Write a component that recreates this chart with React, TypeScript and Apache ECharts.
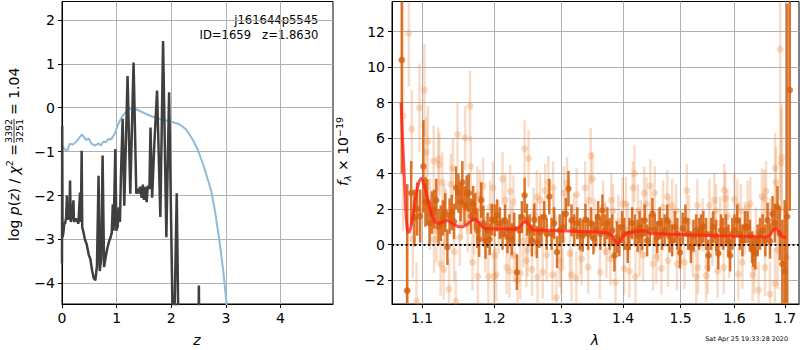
import React, { useEffect, useRef } from 'react';
import * as echarts from 'echarts';

// ---------- Left panel: log p(z) ----------
const zTicks = [0, 1, 2, 3, 4];
const logpTicks = [-4, -3, -2, -1, 0, 1, 2];

const blueZ = [0.0, 0.02, 0.06, 0.10, 0.14, 0.20, 0.27, 0.36, 0.40, 0.44, 0.49, 0.54, 0.61, 0.67, 0.71, 0.76, 0.80, 0.85, 0.90, 0.97, 1.03, 1.09, 1.15, 1.22, 1.28, 1.37, 1.50, 1.65, 1.80, 1.95, 2.14, 2.27, 2.38, 2.48, 2.60, 2.73, 2.80, 2.88, 2.95, 3.01, 3.06];
const blueLogP = [-0.92, -0.90, -0.96, -0.97, -0.82, -0.84, -0.76, -0.61, -0.66, -0.73, -0.70, -0.82, -0.86, -0.81, -0.86, -0.77, -0.79, -0.71, -0.72, -0.58, -0.37, -0.22, -0.12, -0.04, 0.0, -0.04, -0.12, -0.20, -0.26, -0.30, -0.37, -0.49, -0.70, -0.94, -1.35, -1.89, -2.35, -3.02, -3.70, -4.43, -5.5];

const blackZ = [0.000, 0.004, 0.010, 0.025, 0.040, 0.060, 0.075, 0.090, 0.100, 0.120, 0.135, 0.147, 0.160, 0.180, 0.209, 0.220, 0.260, 0.300, 0.330, 0.345, 0.360, 0.370, 0.390, 0.420, 0.450, 0.490, 0.520, 0.550, 0.580, 0.610, 0.640, 0.669, 0.690, 0.718, 0.743, 0.770, 0.800, 0.830, 0.860, 0.890, 0.910, 0.930, 0.945, 0.976, 0.995, 1.020, 1.040, 1.060, 1.080, 1.110, 1.140, 1.200, 1.250, 1.310, 1.360, 1.380, 1.410, 1.430, 1.460, 1.480, 1.500, 1.520, 1.550, 1.570, 1.600, 1.620, 1.650, 1.690, 1.740, 1.800, 1.850, 1.910, 1.960, 2.040, 2.100, 2.140, 2.490, 2.505, 2.520, 4.960];
const blackLogP = [-3.55, -0.41, -2.95, -2.85, -2.65, -2.62, -2.50, -2.00, -2.55, -2.45, -2.55, -1.66, -2.60, -2.50, -2.11, -2.60, -2.53, -2.64, -1.93, -2.60, -0.98, -2.72, -2.82, -3.00, -3.10, -3.35, -3.45, -3.70, -3.88, -3.93, -3.60, -1.55, -3.72, -3.45, -1.09, -3.63, -3.40, -3.20, -3.05, -2.95, -2.85, -2.20, -2.80, -0.94, -2.80, -2.70, -2.27, -2.60, -1.50, -0.25, -2.23, 0.72, -1.96, 1.03, -1.96, -1.85, -1.95, -1.80, -2.05, -1.75, -2.10, -1.80, -2.15, -1.78, -1.85, -0.45, -2.05, -0.82, 0.39, -2.49, 1.52, -2.95, 0.35, -6, -1.95, -6, -6, -4.05, -6, -6];

// ---------- Right panel: spectrum ----------
const lamTicks = [1.1, 1.2, 1.3, 1.4, 1.5, 1.6, 1.7];
const fluxTicks = [-2, 0, 2, 4, 6, 8, 10, 12];

const modelLam = [1.0727, 1.0745, 1.0765, 1.0780, 1.0791, 1.0805, 1.0817, 1.0835, 1.0856, 1.0880, 1.0908, 1.0935, 1.0961, 1.0987, 1.1010, 1.1040, 1.1079, 1.1105, 1.1133, 1.1165, 1.1200, 1.1250, 1.1294, 1.1330, 1.1362, 1.1400, 1.1444, 1.1500, 1.1554, 1.1600, 1.1652, 1.1700, 1.1736, 1.1780, 1.1820, 1.1870, 1.1934, 1.2100, 1.2312, 1.2372, 1.2410, 1.2446, 1.2485, 1.2521, 1.2566, 1.2980, 1.3584, 1.3700, 1.3765, 1.3810, 1.3848, 1.3880, 1.3914, 1.3950, 1.3998, 1.4050, 1.4099, 1.4355, 1.4400, 1.4459, 1.5371, 1.6616, 1.6680, 1.6716, 1.6760, 1.6816, 1.6870, 1.6917, 1.6960, 1.7019];
const modelFlux = [8.0, 6.0, 4.2, 2.6, 1.6, 0.9, 0.7, 0.72, 1.0, 1.6, 2.4, 3.1, 3.55, 3.72, 3.6, 3.2, 2.5, 2.0, 1.6, 1.3, 1.2, 1.22, 1.3, 1.36, 1.33, 1.2, 1.1, 1.0, 1.0, 1.1, 1.28, 1.42, 1.42, 1.2, 1.0, 0.9, 0.89, 0.88, 0.88, 1.0, 1.2, 1.3, 1.2, 1.0, 0.82, 0.78, 0.70, 0.66, 0.62, 0.5, 0.3, 0.12, 0.04, 0.22, 0.5, 0.62, 0.68, 0.79, 0.72, 0.62, 0.52, 0.42, 0.48, 0.6, 0.8, 0.92, 0.75, 0.52, 0.42, 0.38];

const darkLam = [1.0736, 1.0807, 1.0858, 1.0900, 1.0935, 1.0975, 1.1018, 1.1045, 1.1070, 1.1100, 1.1130, 1.1160, 1.1190, 1.1220, 1.1250, 1.1280, 1.1310, 1.1340, 1.1370, 1.1400, 1.1430, 1.1460, 1.1490, 1.1520, 1.1545, 1.1575, 1.1605, 1.1635, 1.1665, 1.1695, 1.1725, 1.1755, 1.1780, 1.1810, 1.1840, 1.1870, 1.1900, 1.1930, 1.1960,
  1.2001, 1.2036, 1.2076, 1.2115, 1.2151, 1.2186, 1.2216, 1.2250, 1.2286, 1.2325, 1.2365, 1.2400, 1.2440, 1.2475, 1.2515, 1.2550, 1.2585, 1.2624, 1.2660, 1.2695, 1.2735, 1.2774, 1.2814, 1.2849, 1.2889, 1.2934, 1.2975, 1.3026, 1.3070, 1.3112, 1.3160, 1.3204, 1.3252, 1.3296, 1.3338, 1.3382, 1.3425, 1.3474, 1.3511, 1.3555,
  1.3587, 1.3625, 1.3657, 1.3694, 1.3738, 1.3775, 1.3819, 1.3856, 1.3895, 1.3937, 1.3981, 1.4019, 1.4078, 1.4106, 1.4153, 1.4200, 1.4245, 1.4280, 1.4322, 1.4367, 1.4409, 1.4454, 1.4501, 1.4541, 1.4583, 1.4628, 1.4670, 1.4715, 1.4762, 1.4802, 1.4849, 1.4896, 1.4941, 1.4988, 1.5037, 1.5086, 1.5136, 1.5186, 1.5234, 1.5284, 1.5335,
  1.5372, 1.5415, 1.5465, 1.5508, 1.5558, 1.5600, 1.5651, 1.5693, 1.5744, 1.5786, 1.5837, 1.5885, 1.5917, 1.5959, 1.6001, 1.6055, 1.6103, 1.6154, 1.6202, 1.6253, 1.6301, 1.6341, 1.6366, 1.6406, 1.6451, 1.6499, 1.6550, 1.6604, 1.6649, 1.6697, 1.6748, 1.6796, 1.6848, 1.6895, 1.6946, 1.6994, 1.7045, 1.7098];
const darkFlux = [10.4, -2.6, 2.9, 1.5, 2.0, 1.6, 4.4, 2.4, 2.4, 1.2, 1.8, 2.0, 2.5, 1.0, 1.2, 1.5, 1.8, -0.15, 1.6, 1.8, 1.3, 3.2, 2.9, 2.4, 3.5, 2.2, 2.9, 2.9, 1.6, 2.3, 1.9, 0.8, 0.3, 2.5, 1.2, 0.2, 0.8, 0.3, 1.4,
  1.36, 1.64, 1.2, 0.6, 1.36, 0.41, 0.8, 0.3, 0.9, -1.56, 0.8, 1.55, 2.77, 1.4, 0.8, 0.23, 1.4, 0.13, 0.7, 0.8, 1.55, 0.6, 2.7, 0.6, 1.2, -0.43, 0.8, 1.0, 1.73, 3.15, 1.36, 0.8, 1.2, 0.6, 0.5, 1.4, 0.6, 1.2, 0.35, 0.8,
  1.55, 0.6, 1.92, 0.8, 1.2, 0.6, 0.8, -0.62, 0.41, 0.23, 0.98, 0.6, -0.15, 0.6, 1.2, 0.8, 0.5, 0.98, 0.6, 1.36, 0.23, 0.8, 1.73, 0.8, 0.41, 1.2, 0.6, 0.8, 1.36, 0.45, 0.23, 0.98, 0.6, -0.45, 0.9, 1.36, 0.6, -0.15, 0.5, 0.8, 0.6,
  0.8, 1.0, 0.6, -0.62, 0.6, 0.98, 0.5, -0.5, 0.8, 0.6, 0.8, 0.23, -0.62, 0.6, 0.8, 1.36, 0.6, 0.23, 0.98, 0.98, 0.5, -0.15, -0.35, -0.5, 0.23, 0.6, 0.8, 0.23, 1.36, 0.2, 1.73, 1.2, 2.1, 0.6, -1.1, -1.5, 1.58, 8.7];
const darkErr = [6.4, 6.0, 1.8, 1.6, 1.5, 1.5, 2.6, 1.4, 1.3, 1.2, 1.2, 1.1, 1.2, 1.0, 1.0, 1.0, 1.1, 1.0, 1.0, 1.0, 1.0, 1.2, 1.1, 1.1, 1.2, 1.1, 1.0, 1.1, 1.0, 1.0, 1.0, 1.0, 1.0, 1.0, 1.0, 1.0, 1.0, 0.9, 0.9,
  0.9, 0.9, 0.9, 0.9, 0.9, 0.9, 0.9, 0.9, 0.9, 1.0, 0.9, 0.9, 1.0, 0.9, 0.9, 0.9, 0.9, 0.9, 0.9, 0.9, 0.9, 0.9, 1.0, 0.9, 0.9, 0.9, 0.9, 0.9, 0.9, 1.0, 0.9, 0.9, 0.9, 0.9, 0.9, 0.9, 0.9, 0.9, 0.9, 0.9,
  0.9, 0.9, 0.9, 0.9, 0.9, 0.9, 0.9, 0.9, 0.9, 0.9, 0.9, 0.9, 0.9, 0.9, 0.9, 0.9, 0.9, 0.9, 0.9, 0.9, 0.9, 0.9, 0.9, 0.9, 0.9, 0.9, 0.9, 0.9, 0.9, 0.9, 0.9, 0.9, 0.9, 0.9, 0.9, 0.9, 0.9, 0.9, 0.9, 0.9, 0.9,
  0.9, 0.9, 0.9, 0.9, 0.9, 0.9, 0.9, 0.9, 0.9, 0.9, 0.9, 0.9, 0.9, 0.9, 0.9, 0.9, 0.9, 0.9, 0.9, 0.9, 0.9, 0.9, 0.9, 0.9, 0.9, 0.9, 0.9, 0.9, 1.0, 1.0, 1.0, 1.1, 1.2, 1.5, 2.5, 4.0, 12.0, 6.8];

const lightLam = [1.0751, 1.0799, 1.0827, 1.0865, 1.0878, 1.0928, 1.0966, 1.1031, 1.1055, 1.1078, 1.1106, 1.1155, 1.1160, 1.1193, 1.1216, 1.1231, 1.1248, 1.1271, 1.1289, 1.1300, 1.1317, 1.1363, 1.1386, 1.1414, 1.1432, 1.1455, 1.1479, 1.1510, 1.1538, 1.1584, 1.1607, 1.1620, 1.1652, 1.1662, 1.1686, 1.1710, 1.1754, 1.1763, 1.1790, 1.1800, 1.1837, 1.1868, 1.1910, 1.1937, 1.1978, 1.1990,
  1.2001, 1.2025, 1.2060, 1.2115, 1.2156, 1.2175, 1.2216, 1.2226, 1.2250, 1.2275, 1.2283, 1.2335, 1.2376, 1.2420, 1.2440, 1.2466, 1.2485, 1.2500, 1.2550, 1.2575, 1.2600, 1.2624, 1.2635, 1.2675, 1.2714, 1.2750, 1.2774, 1.2799, 1.2864, 1.2874, 1.2880, 1.2923, 1.2975, 1.2999, 1.3020, 1.3042, 1.3090, 1.3134, 1.3160, 1.3200, 1.3236, 1.3241, 1.3300, 1.3322, 1.3377, 1.3425, 1.3441, 1.3467, 1.3495, 1.3530,
  1.3615, 1.3670, 1.3700, 1.3722, 1.3787, 1.3803, 1.3831, 1.3872, 1.3920, 1.3991, 1.4019, 1.4049, 1.4080, 1.4106, 1.4165, 1.4193, 1.4210, 1.4252, 1.4280, 1.4300, 1.4339, 1.4357, 1.4397, 1.4466, 1.4513, 1.4541, 1.4570, 1.4600, 1.4657, 1.4687, 1.4762, 1.4774, 1.4800, 1.4849, 1.4918, 1.4936, 1.5000, 1.5067, 1.5112, 1.5150, 1.5220, 1.5284, 1.5303, 1.5316,
  1.5400, 1.5465, 1.5495, 1.5526, 1.5580, 1.5619, 1.5651, 1.5680, 1.5730, 1.5796, 1.5805, 1.5823, 1.5866, 1.5900, 1.6001, 1.6055, 1.6075, 1.6123, 1.6154, 1.6200, 1.6253, 1.6307, 1.6352, 1.6386, 1.6420, 1.6471, 1.6539, 1.6584, 1.6598, 1.6618, 1.6697, 1.6700, 1.6796, 1.6800, 1.6816, 1.6848, 1.6901, 1.6921, 1.6934, 1.7034];
const lightFlux = [7.24, -2.6, 11.9, 6.5, 0.3, -3.2, 7.7, 8.7, 5.2, 5.8, 1.7, 4.7, 0.3, 0.8, 4.8, 4.5, -1.1, 3.5, -1.4, 1.7, 1.5, -2.5, 3.4, 4.3, -0.4, -3.2, 6.2, 0.4, 1.9, 6.0, 2.2, 1.2, 7.8, 4.4, -1.0, 1.0, 2.8, -1.8, 2.6, 2.0, 3.3, 0.0, -1.8, 2.1, 3.2, -1.8,
  -0.62, -1.7, 1.0, 3.7, 2.5, -1.28, -1.5, 3.0, 0.7, 2.4, -0.6, -2.0, -1.6, 0.2, 5.4, -0.9, -0.3, 4.85, -1.4, 1.7, 0.9, 2.68, -1.85, 2.5, -1.55, 3.05, -0.6, 3.5, -1.7, 3.2, 1.5, -2.98, -0.9, -1.3, 0.3, 2.9, 3.45, -0.5, -1.7, 1.4, -1.9, 2.8, -0.2, -0.8, 3.2, -1.28, 2.5, 4.98, 3.7, 1.1,
  -1.56, 2.1, 0.9, -0.4, -0.8, 2.5, 1.9, -2.13, 1.3, 2.3, -1.35, 2.3, 0.8, -1.5, 3.2, 4.0, -1.8, 1.9, -0.3, 1.0, -0.6, 2.9, 2.3, 3.3, -1.1, 2.9, -0.7, 0.5, -1.35, 2.1, 2.7, -0.9, 1.2, 2.2, 1.9, -1.1, 0.4, -1.0, 3.05, 1.3, -0.3, -1.8, 2.2, -1.3,
  1.1, -1.75, -1.3, 2.2, 0.3, 2.5, 1.9, -1.5, 1.2, -1.3, 3.05, 2.6, 1.6, -0.4, 2.55, 2.2, -1.66, 1.9, -1.0, 0.9, 2.1, 2.3, -1.7, -1.3, 0.6, -2.56, 2.7, 2.6, -1.3, 3.0, -2.79, 1.0, -2.2, 4.3, 3.5, -0.3, 11.0, 4.6, 4.9, -0.72];
const lightErr = [6.5, 2.5, 3.0, 2.2, 2.2, 2.2, 2.5, 2.6, 2.0, 2.0, 2.0, 2.0, 1.9, 1.8, 1.8, 1.8, 1.8, 1.7, 1.7, 1.7, 1.6, 1.7, 1.7, 1.7, 1.7, 1.7, 1.8, 1.6, 1.6, 1.8, 1.6, 1.6, 2.0, 1.7, 1.6, 1.6, 1.6, 1.6, 1.6, 1.6, 1.6, 1.6, 1.5, 1.5, 1.5, 1.5,
  1.5, 1.5, 1.5, 1.5, 1.5, 1.5, 1.5, 1.5, 1.5, 1.5, 1.5, 1.5, 1.5, 1.5, 1.6, 1.5, 1.5, 1.6, 1.5, 1.5, 1.5, 1.5, 1.5, 1.5, 1.5, 1.5, 1.5, 1.5, 1.5, 1.5, 1.5, 1.5, 1.5, 1.5, 1.5, 1.5, 1.5, 1.5, 1.5, 1.5, 1.5, 1.5, 1.5, 1.5, 1.5, 1.5, 1.5, 1.6, 1.5, 1.5,
  1.5, 1.5, 1.5, 1.5, 1.5, 1.5, 1.5, 1.5, 1.5, 1.5, 1.5, 1.5, 1.5, 1.5, 1.5, 1.6, 1.5, 1.5, 1.5, 1.5, 1.5, 1.5, 1.5, 1.5, 1.5, 1.5, 1.5, 1.5, 1.5, 1.5, 1.5, 1.5, 1.5, 1.5, 1.5, 1.5, 1.5, 1.5, 1.5, 1.5, 1.5, 1.5, 1.5, 1.5,
  1.5, 1.5, 1.5, 1.5, 1.5, 1.5, 1.5, 1.5, 1.5, 1.5, 1.5, 1.5, 1.5, 1.5, 1.5, 1.5, 1.5, 1.5, 1.5, 1.5, 1.5, 1.5, 1.5, 1.5, 1.5, 1.6, 1.6, 1.6, 1.6, 1.7, 1.8, 1.6, 2.0, 2.0, 2.0, 2.2, 8.5, 3.0, 3.0, 3.0];

const FONT = 'DejaVu Sans';
const minusFmt = (v: number) => String(v).replace('-', '\u2212');

export default function App() {
  const ref = useRef<HTMLDivElement>(null);
  useEffect(() => {
    if (!ref.current) return;
    const chart = echarts.init(ref.current, null, { renderer: 'svg' });

    const LX = [0, 4.96];
    const LY = [-4.47, 2.42];
    const RX = [Math.log(1.0611), Math.log(1.7288)];
    const RY = [-3.35, 13.69];

    const axisCommon = {
      axisLine: { show: true, onZero: false, lineStyle: { color: '#000', width: 1 } },
      axisTick: { show: true, inside: false, length: 4, lineStyle: { color: '#000', width: 1 } },
      splitLine: { show: true, lineStyle: { color: '#b0b0b0', width: 1 } },
      axisLabel: { color: '#000', fontFamily: FONT, fontSize: 14, margin: 7 },
    };

    const errSeries = (lam: number[], flux: number[], err: number[], color: string, width: number, z: number) => ({
      type: 'custom',
      xAxisIndex: 1,
      yAxisIndex: 1,
      z,
      silent: true,
      encode: { x: 0, y: 1 },
      data: lam.map((l, i) => [Math.log(l), flux[i], err[i]]),
      renderItem: (_p: any, api: any) => {
        const x = api.value(0);
        const y = api.value(1);
        const e = api.value(2);
        const lo = Math.max(y - e, RY[0]);
        const hi = Math.min(y + e, RY[1]);
        if (lo >= hi) return null;
        const p1 = api.coord([x, lo]);
        const p2 = api.coord([x, hi]);
        return {
          type: 'line',
          shape: { x1: p1[0], y1: p1[1], x2: p2[0], y2: p2[1] },
          style: { stroke: color, lineWidth: width },
        };
      },
    });

    const tok = { fontFamily: FONT, fontSize: 14, fill: '#000', lineHeight: 18 };
    const itok = { ...tok, fontStyle: 'italic' };
    const sup = { fontFamily: FONT, fontSize: 9.5, fill: '#000', lineHeight: 10, verticalAlign: 'top' };
    const sub = { fontFamily: FONT, fontSize: 9.5, fill: '#000', lineHeight: 10, verticalAlign: 'bottom', fontStyle: 'italic' };

    const option: any = {
      animation: false,
      backgroundColor: '#fff',
      grid: [
        { left: 62, top: 1.5, width: 271, height: 302.5, show: true, borderColor: '#000', borderWidth: 1, containLabel: false },
        { left: 392, top: 1.5, width: 407, height: 302.5, show: true, borderColor: '#000', borderWidth: 1, containLabel: false },
      ],
      xAxis: [
        {
          ...axisCommon, type: 'value', gridIndex: 0, min: LX[0], max: LX[1],
          axisTick: { ...axisCommon.axisTick, customValues: zTicks },
          axisLabel: { ...axisCommon.axisLabel, customValues: zTicks, formatter: minusFmt },
        },
        {
          ...axisCommon, type: 'value', gridIndex: 1, min: RX[0], max: RX[1],
          axisTick: { ...axisCommon.axisTick, customValues: lamTicks.map(Math.log) },
          axisLabel: { ...axisCommon.axisLabel, customValues: lamTicks.map(Math.log), formatter: (v: number) => Math.exp(v).toFixed(1) },
        },
      ],
      yAxis: [
        {
          ...axisCommon, type: 'value', gridIndex: 0, min: LY[0], max: LY[1],
          axisTick: { ...axisCommon.axisTick, customValues: logpTicks },
          axisLabel: { ...axisCommon.axisLabel, customValues: logpTicks, formatter: minusFmt },
        },
        {
          ...axisCommon, type: 'value', gridIndex: 1, min: RY[0], max: RY[1],
          axisTick: { ...axisCommon.axisTick, customValues: fluxTicks },
          axisLabel: { ...axisCommon.axisLabel, customValues: fluxTicks, formatter: minusFmt },
        },
      ],
      series: [
        {
          type: 'line', xAxisIndex: 0, yAxisIndex: 0, z: 2, symbol: 'none', silent: true,
          data: blueZ.map((z, i) => [z, blueLogP[i]]),
          lineStyle: { color: '#8fbbd9', width: 2 },
        },
        {
          type: 'line', xAxisIndex: 0, yAxisIndex: 0, z: 3, symbol: 'none', silent: true,
          data: blackZ.map((z, i) => [z, blackLogP[i]]),
          lineStyle: { color: '#3f3f3f', width: 2.5 },
        },
        errSeries(lightLam, lightFlux, lightErr, 'rgba(234,140,70,0.3)', 2.5, 2),
        {
          type: 'scatter', xAxisIndex: 1, yAxisIndex: 1, z: 3, silent: true,
          data: lightLam.map((l, i) => [Math.log(l), lightFlux[i]]),
          symbol: 'circle', symbolSize: 7,
          itemStyle: { color: 'rgba(232,130,50,0.35)' },
        },
        errSeries(darkLam, darkFlux, darkErr, 'rgba(214,98,14,0.88)', 2.5, 4),
        {
          type: 'scatter', xAxisIndex: 1, yAxisIndex: 1, z: 5, silent: true,
          data: darkLam.map((l, i) => [Math.log(l), darkFlux[i]]),
          symbol: 'circle', symbolSize: 6.5,
          itemStyle: { color: '#d6600e' },
        },
        {
          type: 'line', xAxisIndex: 1, yAxisIndex: 1, z: 6, symbol: 'none', silent: true, smooth: false,
          data: modelLam.map((l, i) => [Math.log(l), modelFlux[i]]),
          lineStyle: { color: 'rgba(255,35,25,0.78)', width: 3, join: 'round' },
          markLine: {
            silent: true, symbol: 'none', label: { show: false },
            lineStyle: { color: '#111', type: [2, 2.5], width: 1.8 },
            data: [{ yAxis: 0 }],
          },
        },
      ],
      graphic: [
        {
          type: 'text', x: 318.5, y: 20,
          style: { text: 'j161644p5545', fontFamily: FONT, fontSize: 11.6, fill: '#000', align: 'right', verticalAlign: 'middle' },
        },
        {
          type: 'text', x: 318.5, y: 34.5,
          style: { text: 'ID=1659\u00a0\u00a0\u00a0z=1.8630', fontFamily: FONT, fontSize: 11.6, fill: '#000', align: 'right', verticalAlign: 'middle' },
        },
        {
          type: 'text', x: 197, y: 340,
          style: { text: 'z', fontFamily: FONT, fontStyle: 'italic', fontSize: 14, fill: '#000', align: 'center', verticalAlign: 'middle' },
        },
        {
          type: 'text', x: 595, y: 340,
          style: { text: 'λ', fontFamily: FONT, fontStyle: 'italic', fontSize: 14, fill: '#000', align: 'center', verticalAlign: 'middle' },
        },
        {
          type: 'text', x: 788, y: 339,
          style: { text: 'Sat Apr 25 19:33:28 2020', fontFamily: FONT, fontSize: 6.4, fill: '#000', align: 'right', verticalAlign: 'middle' },
        },
        {
          type: 'group', x: 13.5, y: 241, rotation: Math.PI / 2,
          children: [
            {
              type: 'text', x: 0, y: 0,
              style: {
                text: '{a|log }{i|p}{a|(}{i|z}{a|) / }{i|χ}{s|2}{a| = }',
                rich: { a: tok, i: itok, s: sup },
                align: 'left', verticalAlign: 'middle',
              },
            },
            { type: 'text', x: 110, y: -5, style: { text: '3392', fontFamily: FONT, fontSize: 9.5, fill: '#000', align: 'center', verticalAlign: 'middle' } },
            { type: 'line', shape: { x1: 98, y1: 0.5, x2: 122, y2: 0.5 }, style: { stroke: '#000', lineWidth: 0.8 } },
            { type: 'text', x: 110, y: 6, style: { text: '3251', fontFamily: FONT, fontSize: 9.5, fill: '#000', align: 'center', verticalAlign: 'middle' } },
            { type: 'text', x: 126, y: 0, style: { text: '= 1.04', fontFamily: FONT, fontSize: 14, fill: '#000', align: 'left', verticalAlign: 'middle' } },
          ],
        },
        {
          type: 'group', x: 343, y: 186, rotation: Math.PI / 2,
          children: [
            {
              type: 'text', x: 0, y: 0,
              style: {
                text: '{i|f}{b|λ}{a| × 10}{s|−19}',
                rich: { a: tok, i: itok, b: sub, s: sup },
                align: 'left', verticalAlign: 'middle',
              },
            },
          ],
        },
      ],
    };

    chart.setOption(option);
    return () => chart.dispose();
  }, []);

  return <div ref={ref} style={{ position: 'absolute', left: 0, top: 0, width: 800, height: 350 }} />;
}
